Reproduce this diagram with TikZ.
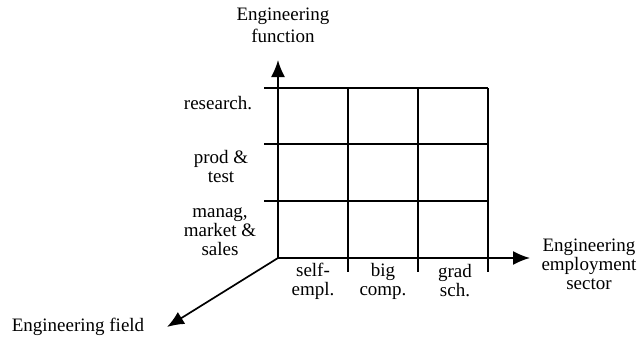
\documentclass[tikz,border=0pt]{standalone}
\usepackage{fontspec}
\setmainfont{Liberation Serif}
\usetikzlibrary{arrows.meta}

\begin{document}
\begin{tikzpicture}[x=1pt,y=-1pt,font=\fontsize{19}{19}\selectfont,
  lbl/.style={align=center,inner sep=0pt},
  axis/.style={line width=1.7pt,-{Latex[length=17pt,width=14pt]}},
  cell/.style={line width=1.4pt}]
\useasboundingbox (0,0) rectangle (638,340);
\coordinate (O) at (278,258);
\coordinate (up) at (278,60);
\coordinate (right) at (530,258);
\coordinate (down) at (167,327);
% grid: rows and columns
\foreach \y in {88,144,201} {\draw[cell] (264,\y) -- (488,\y);}
\foreach \x in {348,418,488} {\draw[cell] (\x,88) -- (\x,272);}
% three axes
\draw[axis] (O) -- (up);
\draw[axis] (O) -- (right);
\draw[axis] (O) -- (down);
% row labels
\node[lbl] (fun) at (283,25) {Engineering\\[3pt]function};
\node[lbl] (res) at (218,103) {research.};
\node[lbl] (prod) at (221,167) {prod \&\\test};
\node[lbl] (man) at (220,232) {manag,\\market \&\\sales};
% column labels
\node[lbl] (self) at (313,281) {self-\\empl.};
\node[lbl] (big) at (383,281) {big\\comp.};
\node[lbl] (grad) at (455,281) {grad\\sch.};
\node[lbl] (sec) at (589,264) {Engineering\\employment\\sector};
\node[lbl] (fld) at (78,327) {Engineering field};
\end{tikzpicture}
\end{document}
